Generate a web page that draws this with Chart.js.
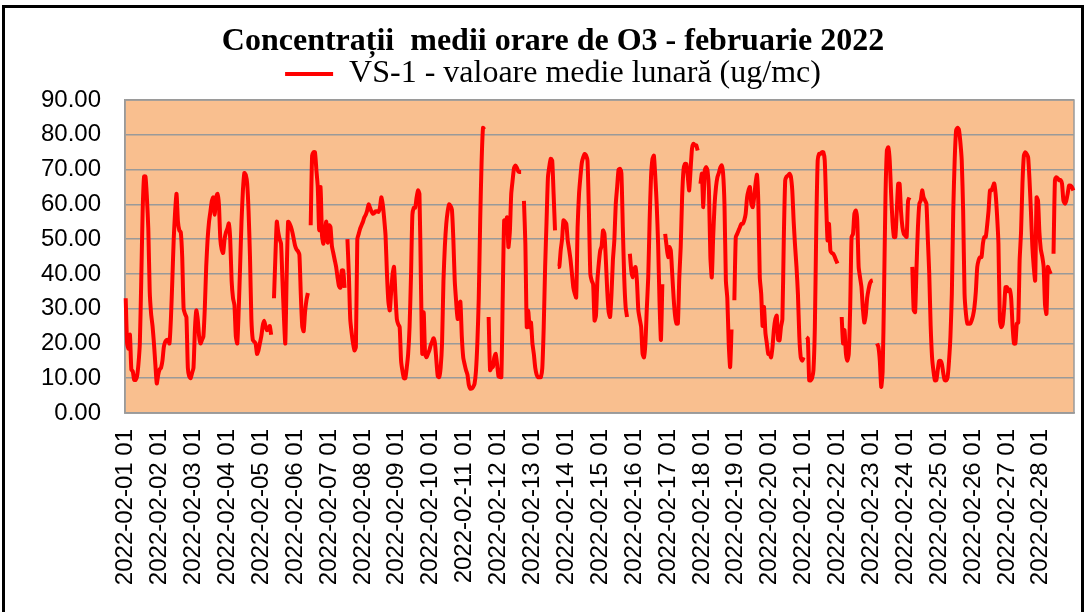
<!DOCTYPE html>
<html>
<head>
<meta charset="utf-8">
<script src="https://cdn.jsdelivr.net/npm/chart.js@4"></script>
<style>
  html, body { margin: 0; padding: 0; background: #fff; }
  #wrap { position: relative; width: 1091px; height: 612px; overflow: hidden; }
  #frame { position: absolute; left: 2px; top: 5px; width: 1082px; height: 700px; border: 3px solid #000; box-sizing: border-box; }
  #o3Chart { position: absolute; left: 0; top: 0; }
</style>
</head>
<body>
<div id="wrap">
  <div id="frame"></div>
  <canvas id="o3Chart" width="1091" height="612"></canvas>
</div>
<script>
// first hour of every day (axis labels)
const dayLabels = [
  '2022-02-01 01', '2022-02-02 01', '2022-02-03 01', '2022-02-04 01', '2022-02-05 01', '2022-02-06 01', '2022-02-07 01',
  '2022-02-08 01', '2022-02-09 01', '2022-02-10 01', '2022-02-11 01', '2022-02-12 01', '2022-02-13 01', '2022-02-14 01',
  '2022-02-15 01', '2022-02-16 01', '2022-02-17 01', '2022-02-18 01', '2022-02-19 01', '2022-02-20 01', '2022-02-21 01',
  '2022-02-22 01', '2022-02-23 01', '2022-02-24 01', '2022-02-25 01', '2022-02-26 01', '2022-02-27 01', '2022-02-28 01',
];
const yTicks = [0, 10, 20, 30, 40, 50, 60, 70, 80, 90];
const seriesName = 'VS-1 - valoare medie lunară (ug/mc)';

// hourly O3 (ug/mc), 24 values per day, null = missing hour
const o3Hourly = [
  33, 20, 18.5, 22.5, 12.5, 12, 9.5, 9.5, 10.5, 14, 20, 38, 58, 68, 68, 62, 53, 35, 28.5, 25, 20, 14, 8.5, 11,
  12.5, 13, 15, 19, 20.5, 21, 21, 20, 27, 38, 50, 58, 63, 55, 52.5, 52, 45, 30, 28.5, 27.5, 13, 10.5, 10, 11.5,
  13, 24, 29.5, 27, 22, 20, 21, 22, 30, 42, 50, 55, 58, 61, 62, 57, 62, 63, 60, 50, 47, 46, 50, 52,
  53, 54.5, 50, 38, 33, 31, 22, 20, 29.5, 42, 55, 64, 69, 68.5, 66, 58, 45, 27, 21, 20.5, 20, 17, 18, 20,
  22, 25, 26.5, 25, 23.8, 24, 25, 22.5, null, 33, 45, 55, 52, 50, 48.7, 38, 28, 20, 40, 55, 54.5, 53.5, 52, 50,
  48, 47, 46.5, 45.5, 34, 25, 23.5, 29, 32.5, 34.5, null, 54, 74, 75, 75, 70, 65, 52.5, 65, 51, 48.7, 52, 55, 49,
  54, 53.5, 48, 46, 44, 42, 39, 36.5, 36, 41, 41, 36, null, 50, 40, 27, 23, 20, 18, 19, 50, 51.5, 53, 54,
  55, 56.3, 57, 58.2, 60, 59, 58, 57.3, 57.5, 58, 58, 57.8, 59, 62, 60, 56, 51, 40, 32, 29.5, 35, 40, 42, 34,
  27, 25.5, 24.7, 15, 12, 10, 10, 13, 17, 24.7, 39, 57, 59, 59, 62, 64, 63, 39, 17, 29, 17, 16, 17, 18,
  19.5, 20.5, 21.5, 20, 15, 10.5, 10.3, 13, 20, 38, 48, 54.4, 58, 60, 59.5, 58.5, 50, 38, 32, 27, 31, 32, 22, 16,
  14, 12.3, 11, 8, 7, 7, 7.5, 8.4, 12, 20, 33, 55, 72, 82, 81.5, null, null, 27.6, 12.3, 13, 13.2, 16, 17, 14,
  10.5, 10.3, 10.3, 34, 55.4, 53.5, 56.3, 47.7, 52, 63, 67, 70.5, 71.2, 70.5, 69.5, 69.3, 69.3, null, 61, 48.7, 24.7, 29.5, 24.7, 26,
  20, 17, 13, 11, 10.3, 10.3, 10.3, 13, 24.7, 42, 55, 67.8, 71, 73.1, 72.6, 63, 52.5, null, 42, 42, 46.7, 50, 55.4, 55,
  54.4, 49.6, 47, 44, 40, 36, 34.3, 33.2, 53.5, 63, 68, 72, 73.6, 74.5, 74, 72.6, 58, 40, 38, 37, 26.6, 28, 38, 43,
  46.7, 48, 52.5, 51.5, 44, 35, 29, 27.6, 34.3, 44, 49.6, 60, 65, 70, 70.2, 69, 53.5, 39, 30.5, 27.6, null, 45.8, 41, 39,
  41, 42, 38, 29.5, 27, 24.7, 17, 16, 20, 30, 39, 55.4, 68, 73, 74, 68, 60, 48.7, 32, 21, 37, null, 51.5, 48,
  44.8, 47.7, 46.7, 40, 33, 28, 25.7, 25.7, 39, 47.7, 62, 70, 71.6, 71.6, 68, 64, 70, 76, 77.4, 77, 77, 75.5, null, 65.9,
  68.8, 59.2, 69.7, 70.7, 69.7, 64, 45, 39, 50.6, 60, 65, 67.8, 69, 70.5, 71.2, 69, 60, 38, 33, 20, 13.2, 24, null, 32.4,
  50.6, 51.5, 52.5, 53.5, 54.4, 54.4, 55.4, 57.3, 62, 64, 65, 60.2, 59.2, 62, 66, 68.5, 60, 39, 34.3, 25, 30.5, 23, 20, 17,
  17, 16, 19, 24, 27, 28, 21, 20.9, 24.7, 27, 50, 66.9, 68, 68.3, 68.8, 68, 64, 55, 48, 42, 34.3, 22, 16, 15,
  16, null, 21.8, 21.5, 9.4, 9.4, 10, 12.3, 24.7, 53.5, 72.6, 74.5, 74.5, 75, 75, 72.6, 60.2, 49.6, 54.4, 46.7, 46, 45.8, 45, 43.9,
  43, null, null, 27.6, 20, 23.8, 17, 15, 17, 30, 50.6, 51.5, 57.3, 58.2, 55.4, 42, 39, 36.2, 30, 26, 28, 33, 35.5, 37.3,
  38, 38.1, null, null, 20, 19, 15, 7.5, 12, 35, 62, 75.5, 76.4, 72.6, 63, 55, 50.6, 50.6, 58, 65.9, 65.9, 58, 53.5, 51.5,
  51, 50.6, 61, 62, null, 42, 29.5, 29, 42, 53.5, 60.2, 61.1, 64, 62, 61.1, 60.2, 50, 40, 25, 16, 12, 9.4, 9.4, 12.3,
  15, 15, 14, 11.3, 9.4, 9.4, 10.3, 15, 22, 34.3, 58.2, 72.6, 81.2, 82, 81.5, 78, 72.6, 58.2, 34.3, 28.5, 25.7, 25.7, 25.7, 26.6,
  28, 30.5, 35, 42, 44, 44.8, 44.8, 48.7, 50.6, 50.6, 54, 58.2, 64, 64, 65, 66, 63, 57, 48.7, 26.6, 24.7, 25.5, 30, 36.2,
  36.2, 35, 35.5, 33, 25, 20, 20, 25.7, 26, 43.9, 52, 66, 74, 75, 74.5, 73.6, 67, 58, 48, 42, 38.1, 62, 61.1, 52,
  47, 45, 42, 31, 28.5, 42, 41, 40, null, 45.8, 66.9, 67.8, 67.5, 66.9, 67, 66, 61.1, 60.2, 61, 63, 65.4, 65.4, 65, 64,
];

// one category per hour: "2022-02-DD HH"
const hourLabels = [];
dayLabels.forEach((d) => {
  for (let h = 1; h <= 24; h++) hourLabels.push(d.slice(0, 10) + ' ' + String(h).padStart(2, '0'));
});

const plotArea = {
  id: 'plotArea',
  afterLayout(chart) {
    // title and legend are centred on the framed box, not on the canvas
    [chart.titleBlock, chart.legend].forEach((b) => { if (b) { b.left += 16; b.right += 16; } });
  },
  beforeDraw(chart) {
    const { ctx, chartArea: a } = chart;
    ctx.save();
    ctx.fillStyle = '#F9BF8F';
    ctx.fillRect(a.left, a.top, a.width, a.height);
    ctx.restore();
  },
  beforeDatasetsDraw(chart) {
    const { ctx, chartArea: a } = chart;
    ctx.save();
    ctx.strokeStyle = '#9a9a9a';
    ctx.lineWidth = 1.5;
    ctx.strokeRect(a.left, a.top, a.width, a.height);
    ctx.restore();
  },
};

const serif = '"Liberation Serif", "Times New Roman", serif';
const sans = '"Liberation Sans", Arial, sans-serif';

new Chart(document.getElementById('o3Chart'), {
  type: 'line',
  data: {
    labels: hourLabels,
    datasets: [{
      label: seriesName,
      data: o3Hourly,
      borderColor: '#ff0000',
      backgroundColor: '#ff0000',
      borderWidth: 4,
      pointRadius: 0,
      tension: 0.2,
      spanGaps: false,
    }],
  },
  plugins: [plotArea],
  options: {
    responsive: false,
    animation: false,
    layout: { padding: { left: 0, right: 17, top: 0, bottom: 0 } },
    plugins: {
      title: {
        display: true,
        text: 'Concentrații  medii orare de O3 - februarie 2022',
        color: '#000',
        font: { family: serif, size: 32, weight: 'bold', lineHeight: 1 },
        padding: { top: 26, bottom: -3 },
      },
      legend: {
        display: true,
        labels: {
          color: '#000',
          font: { family: serif, size: 32, lineHeight: 1 },
          boxWidth: 48,
          boxHeight: 4,
          padding: 3,
          generateLabels: (chart) => Chart.defaults.plugins.legend.labels.generateLabels(chart)
            .map((l) => ({ ...l, lineWidth: 0, fillStyle: '#ff0000' })),
        },
      },
      tooltip: { enabled: false },
    },
    scales: {
      x: {
        offset: true,
        grid: { display: false, drawTicks: false },
        border: { display: true, color: '#9a9a9a', width: 1.5 },
        afterFit: (scale) => { scale.height = 199; },
        ticks: {
          autoSkip: false,
          minRotation: 90,
          maxRotation: 90,
          padding: 16,
          color: '#000',
          font: { family: sans, size: 24 },
          callback: (v, i) => (i % 24 === 0 ? dayLabels[i / 24] : null),
        },
      },
      y: {
        min: yTicks[0],
        max: yTicks[yTicks.length - 1],
        afterFit: (scale) => { scale.width = 125; },
        afterBuildTicks: (scale) => { scale.ticks = yTicks.map((v) => ({ value: v })); },
        grid: { color: '#9a9a9a', lineWidth: 1.5, drawTicks: false },
        border: { display: true, color: '#9a9a9a', width: 1.5 },
        ticks: {
          padding: 24,
          color: '#000',
          font: { family: sans, size: 24 },
          callback: (v) => v.toFixed(2),
        },
      },
    },
  },
});
</script>
</body>
</html>
